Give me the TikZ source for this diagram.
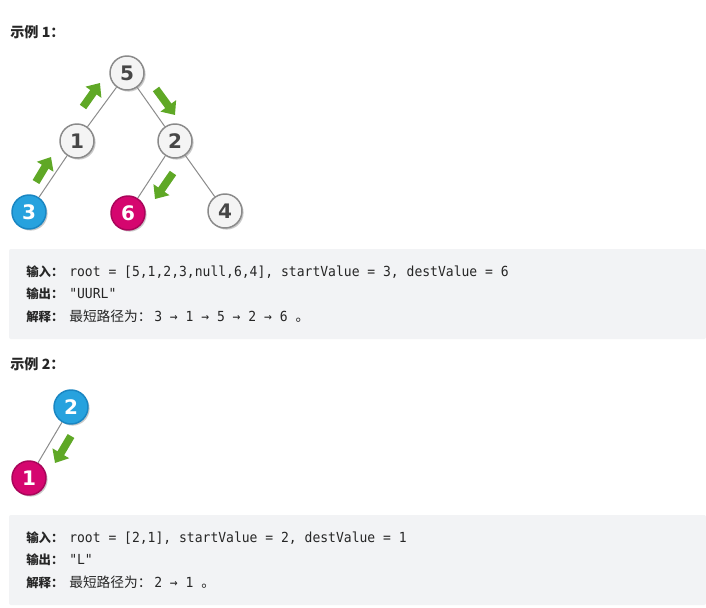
\documentclass[tikz,border=0pt]{standalone}
\usepackage{fontspec}
\newfontfamily\cjk{Noto Sans CJK SC}
\newfontfamily\codefont[FakeStretch=0.94]{DejaVu Sans Mono}
\newfontfamily\nodefont{DejaVu Sans}
\usetikzlibrary{arrows.meta,shadows}
\definecolor{boxgray}{HTML}{F2F3F5}
\definecolor{txt}{HTML}{262626}
\definecolor{nblue}{HTML}{27A2DE}
\definecolor{nbluebd}{HTML}{1A86C2}
\definecolor{nmag}{HTML}{D5066F}
\definecolor{nmagbd}{HTML}{A9055A}
\definecolor{ngray}{HTML}{F4F4F4}
\definecolor{ngraybd}{HTML}{8A8A8A}
\definecolor{arrgreen}{HTML}{5FA826}
\definecolor{edgegray}{HTML}{8C8C8C}
\tikzset{
  tnode/.style={circle,minimum size=25.5pt,inner sep=0pt,line width=1.1pt,
    font=\nodefont\bfseries\fontsize{15}{15}\selectfont,
    drop shadow={shadow xshift=1.2pt,shadow yshift=-1.2pt,opacity=0.35,fill=black!60}},
  gnode/.style={tnode,fill=ngray,draw=ngraybd,text=black!72},
  bnode/.style={tnode,fill=nblue,draw=nbluebd,text=white},
  mnode/.style={tnode,fill=nmag,draw=nmagbd,text=white},
  edge/.style={draw=edgegray,line width=0.75pt},
  garrow/.style={draw=arrgreen,line width=5.8pt,-{Triangle[length=8.5pt,width=14pt]}},
  heading/.style={anchor=base west,inner sep=0pt,text=txt,font=\cjk\bfseries\fontsize{10.6}{12}\selectfont},
  lab/.style={anchor=base west,inner sep=0pt,text=txt,font=\cjk\bfseries\fontsize{9.3}{11}\selectfont},
  cjktext/.style={anchor=base west,inner sep=0pt,text=txt,font=\cjk\fontsize{10.3}{12}\selectfont},
  code/.style={anchor=base west,inner sep=0pt,text=txt,font=\codefont\fontsize{10.4}{12}\selectfont},
  panel/.style={fill=boxgray,draw=none,rounded corners=1.5pt}
}
\begin{document}
\begin{tikzpicture}[x=0.75pt,y=-0.75pt]
\useasboundingbox[fill=white] (0,0) rectangle (706,607);

% Example 1
\node[heading] (h1) at (10,37) {示例 1：};

\node[gnode] (n5) at (127,73) {5};
\node[gnode] (n1) at (77,141) {1};
\node[gnode] (n2) at (175,141) {2};
\node[bnode] (n3) at (29,212) {3};
\node[mnode] (n6) at (128,213) {6};
\node[gnode] (n4) at (225,211) {4};

\draw[edge] (n5) -- (n1);
\draw[edge] (n5) -- (n2);
\draw[edge] (n1) -- (n3);
\draw[edge] (n2) -- (n6);
\draw[edge] (n2) -- (n4);

\coordinate (a1s) at (36,182); \coordinate (a1e) at (51,157);
\coordinate (a2s) at (83,107); \coordinate (a2e) at (100,83);
\coordinate (a3s) at (156,89); \coordinate (a3e) at (175,115);
\coordinate (a4s) at (173,173); \coordinate (a4e) at (155,199);
\draw[garrow] (a1s) -- (a1e);
\draw[garrow] (a2s) -- (a2e);
\draw[garrow] (a3s) -- (a3e);
\draw[garrow] (a4s) -- (a4e);

\fill[panel] (9,249) rectangle (706,339);
\node[lab] (l1a) at (26,276) {输入：};
\node[code] (l1b) at (69,276) {root = [5,1,2,3,null,6,4], startValue = 3, destValue = 6};
\node[lab] (l2a) at (26,298.5) {输出：};
\node[code] (l2b) at (69,298.5) {"UURL"};
\node[lab] (l3a) at (26,321) {解释：};
\node[cjktext] (l3b) at (69,321) {最短路径为：};
\node[code] (l3c) at (154,321) {3 → 1 → 5 → 2 → 6 {\cjk 。}};

% Example 2
\node[heading] (h2) at (10,369) {示例 2：};
\node[bnode] (m2) at (71,407) {2};
\node[mnode] (m1) at (29,478) {1};
\draw[edge] (m2) -- (m1);
\coordinate (b1s) at (71,436); \coordinate (b1e) at (55,463);
\draw[garrow] (b1s) -- (b1e);

\fill[panel] (9,515) rectangle (706,605);
\node[lab] (k1a) at (26,542) {输入：};
\node[code] (k1b) at (69,542) {root = [2,1], startValue = 2, destValue = 1};
\node[lab] (k2a) at (26,564.5) {输出：};
\node[code] (k2b) at (69,564.5) {"L"};
\node[lab] (k3a) at (26,587) {解释：};
\node[cjktext] (k3b) at (69,587) {最短路径为：};
\node[code] (k3c) at (154,587) {2 → 1 {\cjk 。}};
\end{tikzpicture}
\end{document}
